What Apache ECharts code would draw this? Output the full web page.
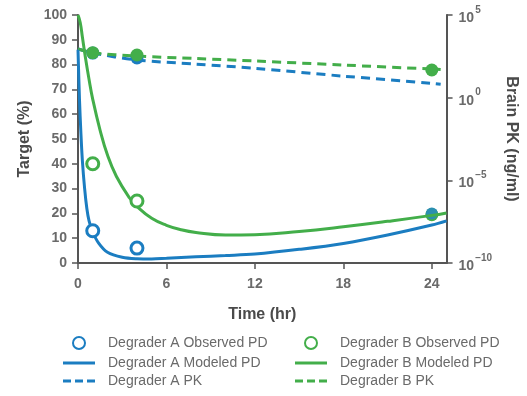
<!DOCTYPE html>
<html>
<head>
<meta charset="utf-8">
<script src="https://cdn.jsdelivr.net/npm/echarts@6/dist/echarts.min.js"></script>
<style>
  html, body { margin: 0; padding: 0; background: #fff; }
  #main { width: 527px; height: 396px; }
</style>
</head>
<body>
<div id="main"></div>
<script>
// modeled PD curves (Target %)
var timeModelA = [0, 0.1, 0.2, 0.3, 0.45, 0.6, 0.75, 1, 1.4, 2, 3, 4, 5, 6, 8, 10, 12, 15, 18, 21, 24, 25];
var pdModelA   = [86, 66, 52, 41, 30, 22, 17, 12.5, 8, 4.3, 2.3, 1.7, 1.6, 1.9, 2.5, 3, 3.6, 5.5, 7.9, 11.3, 15.3, 17];
var timeModelB = [0, 0.15, 0.3, 0.5, 0.75, 1, 1.5, 2, 2.6, 3.5, 4, 5, 6, 7, 8, 10, 12, 15, 18, 21, 24, 25];
var pdModelB   = [100, 97, 91, 83, 74, 66, 53.5, 43.5, 35, 26.2, 22.8, 18, 15.2, 13.4, 12.3, 11.3, 11.4, 12.7, 14.6, 16.8, 19.2, 20.2];

// observed PD (open circles) and 24 hr (filled)
var obsTime = [1, 4];
var obsPDA = [13, 6];
var obsPDB = [40, 25];
var obsTime24 = [24];
var obsPD24A = [20];
var obsPD24B = [19.5];

// PK (ng/ml, log axis)
var pkTime = [0, 1, 4, 8, 12, 18, 24, 24.6];
var pkA = [900, 500, 190, 107, 60, 20, 7.4, 6.5];
var pkB = [900, 520, 330, 234, 166, 94, 54, 50];
var obsPkTimeA = [1, 4];
var obsPkA = [500, 250];
var obsPkTimeB = [1, 4, 24];
var obsPkB = [525, 380, 47];

var xTicks = [0, 6, 12, 18, 24];
var pkTicks = [1e-10, 1e-5, 1, 1e5];

var blue = '#1b7dc1';
var green = '#43ae4a';
var axisColor = '#555';
var labelColor = '#6a6a6a';
var font = 'Liberation Sans';

// legend icons
var iconSolid = 'path://M0,0 L32,0 L32,3 L0,3 Z';
var iconDash = 'path://M0,0 L8,0 L8,3 L0,3 Z M12,0 L20,0 L20,3 L12,3 Z M24,0 L32,0 L32,3 L24,3 Z';

function pairs(xs, ys) {
    var out = [];
    for (let i = 0; i < xs.length; i++) {
        out.push([xs[i], ys[i]]);
    }
    return out;
}

var myChart = echarts.init(document.getElementById('main'));

var axisLineStyle = { show: true, lineStyle: { color: axisColor, width: 2 } };
var tickStyle = { show: true, length: 6, lineStyle: { color: axisColor, width: 1.5 } };

function legendBox(name, icon, h, left, top) {
    return {
        data: [{ name: name, icon: icon }],
        left: left,
        top: top,
        padding: 0,
        itemWidth: 32,
        itemHeight: h,
        selectedMode: false,
        textStyle: { color: labelColor, fontSize: 14, fontFamily: font, padding: [0, 0, 0, 8] }
    };
}

var option = {
    animation: false,
    backgroundColor: '#fff',
    grid: { left: 78, right: 74, top: 15, bottom: 133 },
    legend: [
        legendBox('Degrader A Observed PD', 'circle', 12, 72, 336),
        legendBox('Degrader A Modeled PD', iconSolid, 3, 63, 356),
        legendBox('Degrader A PK', iconDash, 3, 63, 374),
        legendBox('Degrader B Observed PD', 'circle', 12, 304, 336),
        legendBox('Degrader B Modeled PD', iconSolid, 3, 295, 356),
        legendBox('Degrader B PK', iconDash, 3, 295, 374)
    ],
    xAxis: {
        type: 'value',
        min: 0,
        max: 25,
        interval: 6,
        name: 'Time (hr)',
        nameLocation: 'middle',
        nameGap: 44,
        nameTextStyle: { color: '#4a4a4a', fontSize: 16, fontWeight: 'bold', fontFamily: font },
        axisLine: axisLineStyle,
        axisTick: Object.assign({ customValues: xTicks }, tickStyle),
        axisLabel: { customValues: xTicks, margin: 14, color: labelColor, fontSize: 14, fontWeight: 'bold', fontFamily: font },
        splitLine: { show: false }
    },
    yAxis: [{
        type: 'value',
        min: 0,
        max: 100,
        interval: 10,
        name: 'Target (%)',
        nameLocation: 'middle',
        nameGap: 35,
        nameTextStyle: { color: '#4a4a4a', fontSize: 16, fontWeight: 'bold', fontFamily: font },
        axisLine: axisLineStyle,
        axisTick: tickStyle,
        axisLabel: { margin: 11, color: labelColor, fontSize: 14, fontWeight: 'bold', fontFamily: font },
        splitLine: { show: false }
    }, {
        type: 'log',
        logBase: 10,
        min: 1e-10,
        max: 1e5,
        position: 'right',
        name: 'Brain PK (ng/ml)',
        nameLocation: 'middle',
        nameRotate: -90,
        nameGap: 40,
        nameTextStyle: { color: '#4a4a4a', fontSize: 16, fontWeight: 'bold', fontFamily: font },
        axisLine: axisLineStyle,
        axisTick: Object.assign({ customValues: pkTicks }, tickStyle),
        axisLabel: {
            customValues: pkTicks,
            margin: 12,
            color: labelColor,
            fontFamily: font,
            formatter: function (v) {
                var e = Math.round(Math.log(v) / Math.LN10);
                return '{b|10}{s|' + String(e).replace('-', '\u2212') + '}';
            },
            rich: {
                b: { fontSize: 14, fontWeight: 'bold', color: labelColor, fontFamily: font, verticalAlign: 'bottom', lineHeight: 20 },
                s: { fontSize: 10, fontWeight: 'bold', color: labelColor, fontFamily: font, verticalAlign: 'top', lineHeight: 20, padding: [0, 0, 6, 1] }
            }
        },
        splitLine: { show: false }
    }],
    series: [
        {
            name: 'Degrader A PK', type: 'line', yAxisIndex: 1,
            data: pairs(pkTime, pkA), showSymbol: false, smooth: 0.3, z: 2,
            lineStyle: { color: blue, width: 3, type: [9, 6] }, itemStyle: { color: blue }
        },
        {
            name: 'Degrader B PK', type: 'line', yAxisIndex: 1,
            data: pairs(pkTime, pkB), showSymbol: false, smooth: 0.3, z: 2,
            lineStyle: { color: green, width: 3, type: [9, 6] }, itemStyle: { color: green }
        },
        {
            name: 'PK obs A', type: 'scatter', yAxisIndex: 1,
            data: pairs(obsPkTimeA, obsPkA), symbol: 'circle', symbolSize: 13, z: 3,
            itemStyle: { color: blue, opacity: 1 }
        },
        {
            name: 'PK obs B', type: 'scatter', yAxisIndex: 1,
            data: pairs(obsPkTimeB, obsPkB), symbol: 'circle', symbolSize: 13, z: 3,
            itemStyle: { color: green, opacity: 1 }
        },
        {
            name: 'Degrader B Modeled PD', type: 'line',
            data: pairs(timeModelB, pdModelB), showSymbol: false, smooth: 0.45, z: 4,
            lineStyle: { color: green, width: 3 }, itemStyle: { color: green }
        },
        {
            name: 'Degrader A Modeled PD', type: 'line',
            data: pairs(timeModelA, pdModelA), showSymbol: false, smooth: 0.35, z: 4,
            lineStyle: { color: blue, width: 3 }, itemStyle: { color: blue }
        },
        {
            name: 'Degrader A Observed PD', type: 'scatter',
            data: pairs(obsTime, obsPDA), symbol: 'circle', symbolSize: 12, z: 5,
            itemStyle: { color: '#fff', borderColor: blue, borderWidth: 3, opacity: 1 }
        },
        {
            name: 'Degrader B Observed PD', type: 'scatter',
            data: pairs(obsTime, obsPDB), symbol: 'circle', symbolSize: 12, z: 5,
            itemStyle: { color: '#fff', borderColor: green, borderWidth: 3, opacity: 1 }
        },
        {
            name: 'PD 24 B', type: 'scatter',
            data: pairs(obsTime24, obsPD24B), symbol: 'circle', symbolSize: 13, z: 3,
            itemStyle: { color: green, opacity: 1 }
        },
        {
            name: 'PD 24 A', type: 'scatter',
            data: pairs(obsTime24, obsPD24A), symbol: 'circle', symbolSize: 12, z: 3,
            itemStyle: { color: '#2a8fb0', opacity: 1 }
        }
    ]
};

myChart.setOption(option);
</script>
</body>
</html>
